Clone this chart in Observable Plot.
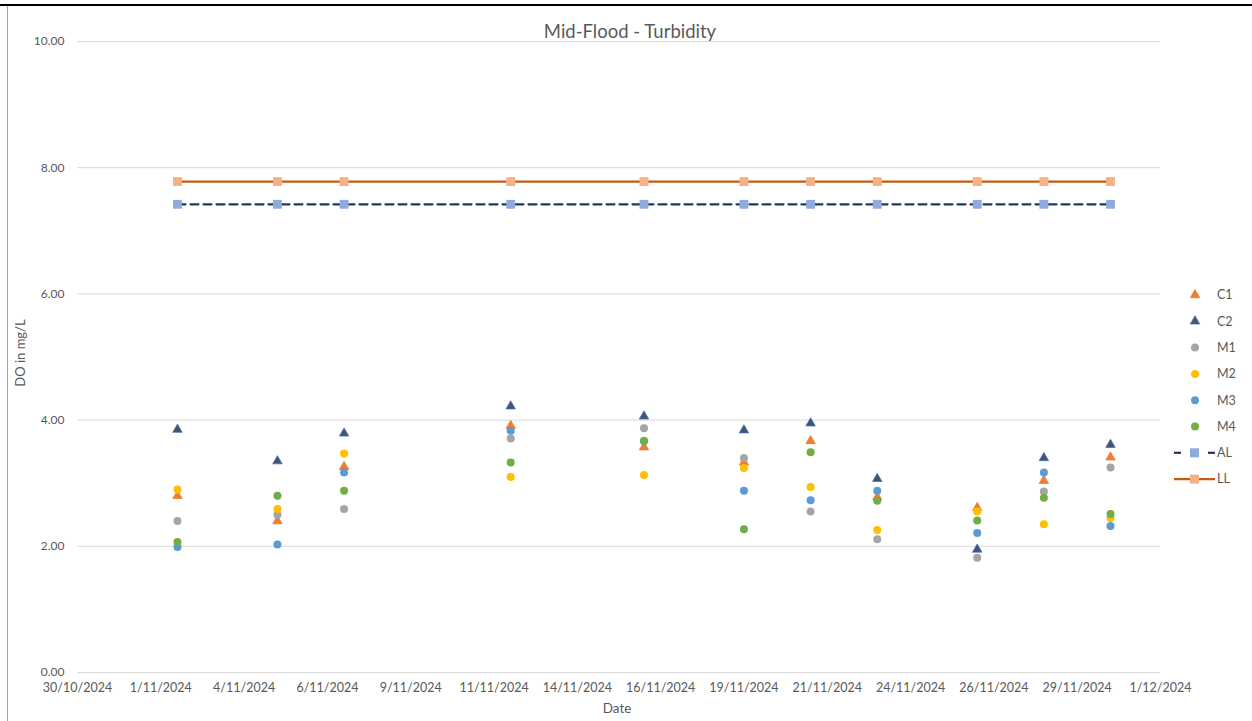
<!DOCTYPE html>
<html>
<head>
<meta charset="utf-8">
<script src="https://cdn.jsdelivr.net/npm/d3@7"></script>
<script src="https://cdn.jsdelivr.net/npm/@observablehq/plot@0.6"></script>
<style>
  body { margin: 0; background: #fff; font-family: Lato, "Open Sans", sans-serif; }
  #wrap { position: relative; width: 1252px; height: 721px; overflow: hidden; background: #fff; }
  #wrap svg.plot { position: absolute; left: 0; top: 0; }
  #topline { position: absolute; left: 0; top: 4px; width: 1252px; height: 2px; background: #000; }
  #leftline { position: absolute; left: 7px; top: 6px; width: 1px; height: 715px; background: #a6a6a6; }
  #title { position: absolute; left: 430px; top: 20px; width: 400px; text-align: center; font-size: 18.5px; color: #595959; }
  #ylabel { position: absolute; left: 20px; top: 353px; transform: translate(-50%, -50%) rotate(-90deg); font-size: 13px; color: #595959; white-space: nowrap; }
  #xlabel { position: absolute; left: 617px; top: 708px; transform: translate(-50%, -50%); font-size: 13.5px; color: #595959; }
  #legend { position: absolute; left: 1160px; top: 270px; }
</style>
</head>
<body>
<div id="wrap">
  <div id="topline"></div>
  <div id="leftline"></div>
</div>
<script>
// ---- data ----
const dates = ["2024-11-02","2024-11-05","2024-11-07","2024-11-12","2024-11-16","2024-11-19","2024-11-21","2024-11-23","2024-11-26","2024-11-28","2024-11-30"];
const C1 = [2.80, 2.40, 3.26, 3.91, 3.57, 3.33, 3.67, 2.78, 2.61, 3.04, 3.41];
const C2 = [3.85, 3.35, 3.79, 4.22, 4.06, 3.84, 3.95, 3.07, 1.95, 3.40, 3.61];
const M1 = [2.40, 2.50, 2.59, 3.71, 3.87, 3.40, 2.55, 2.11, 1.82, 2.87, 3.25];
const M2 = [2.90, 2.59, 3.47, 3.10, 3.13, 3.24, 2.94, 2.26, 2.55, 2.35, 2.45];
const M3 = [1.99, 2.03, 3.17, 3.83, 3.67, 2.88, 2.73, 2.88, 2.21, 3.17, 2.32];
const M4 = [2.07, 2.80, 2.88, 3.33, 3.67, 2.27, 3.49, 2.72, 2.41, 2.77, 2.51];
const AL = [7.42, 7.42, 7.42, 7.42, 7.42, 7.42, 7.42, 7.42, 7.42, 7.42, 7.42];
const LL = [7.78, 7.78, 7.78, 7.78, 7.78, 7.78, 7.78, 7.78, 7.78, 7.78, 7.78];
const seriesNames = ["C1","C2","M1","M2","M3","M4","AL","LL"];
const yTicks = [0, 2, 4, 6, 8, 10];
const xTicks = ["2024-10-30T00:00Z","2024-11-01T12:00Z","2024-11-04T00:00Z","2024-11-06T12:00Z","2024-11-09T00:00Z","2024-11-11T12:00Z","2024-11-14T00:00Z","2024-11-16T12:00Z","2024-11-19T00:00Z","2024-11-21T12:00Z","2024-11-24T00:00Z","2024-11-26T12:00Z","2024-11-29T00:00Z","2024-12-01T12:00Z"];
const titleText = "Mid-Flood - Turbidity";
const yLabelText = "DO in mg/L";
const xLabelText = "Date";

// ---- styles ----
const styles = {
  C1: {symbol: "triangle", fill: "#ED7D31", stroke: "#ED7D31", r: 3.5},
  C2: {symbol: "triangle", fill: "#44546A", stroke: "#4472C4", r: 3.5},
  M1: {symbol: "circle", fill: "#A5A5A5", r: 4},
  M2: {symbol: "circle", fill: "#FFC000", r: 4},
  M3: {symbol: "circle", fill: "#5B9BD5", r: 4},
  M4: {symbol: "circle", fill: "#70AD47", r: 4},
  AL: {line: "#203864", marker: "#8FAADC", dash: "8,5"},
  LL: {line: "#C55A11", marker: "#F4B183", dash: null}
};

const values = {C1, C2, M1, M2, M3, M4, AL, LL};
const toRows = (name) => dates.map((d, i) => ({date: new Date(d + "T00:00Z"), value: values[name][i], series: name}));
const xTickDates = xTicks.map(s => new Date(s));
const fmt = d3.utcFormat("%-d/%-m/%Y");

const marks = [
  Plot.gridY(yTicks, {stroke: "#d9d9d9", strokeOpacity: 1, strokeWidth: 1}),
  Plot.axisY(yTicks, {tickSize: 0, tickPadding: 13, tickFormat: d => d.toFixed(2), label: null, fontSize: 12}),
  Plot.axisX(xTickDates, {tickSize: 0, tickPadding: 11, tickFormat: fmt, label: null, fontSize: 12.5})
];
for (const name of ["AL", "LL"]) {
  const s = styles[name];
  const rows = toRows(name);
  marks.push(Plot.line(rows, {x: "date", y: "value", stroke: s.line, strokeWidth: 2.25, strokeDasharray: s.dash || undefined}));
  marks.push(Plot.dot(rows, {x: "date", y: "value", symbol: "square", fill: s.marker, r: 5}));
}
for (const name of ["C1","C2","M1","M2","M3","M4"]) {
  const s = styles[name];
  const opts = {x: "date", y: "value", symbol: s.symbol, fill: s.fill, r: s.r};
  if (s.stroke) { opts.stroke = s.stroke; opts.strokeWidth = 0.8; }
  marks.push(Plot.dot(toRows(name), opts));
}

const chart = Plot.plot({
  width: 1252, height: 721,
  marginLeft: 77, marginRight: 92, marginTop: 41, marginBottom: 49,
  style: {fontFamily: "Lato, 'Open Sans', sans-serif", color: "#595959", background: "transparent", overflow: "visible"},
  x: {type: "utc", domain: [new Date(xTicks[0]), new Date(xTicks[xTicks.length - 1])]},
  y: {domain: [0, 10]},
  marks
});
chart.classList.add("plot");
const wrap = document.getElementById("wrap");
wrap.appendChild(chart);

// ---- text overlays ----
const addDiv = (id, text) => { const el = document.createElement("div"); el.id = id; el.textContent = text; wrap.appendChild(el); };
addDiv("title", titleText);
addDiv("ylabel", yLabelText);
addDiv("xlabel", xLabelText);

// ---- legend ----
const lg = d3.select(wrap).append("svg").attr("id", "legend").attr("width", 92).attr("height", 230)
  .style("font-family", "Lato, 'Open Sans', sans-serif");
seriesNames.forEach((name, i) => {
  const s = styles[name];
  const cy = 25 + i * 26.3;
  const g = lg.append("g").attr("transform", `translate(0,${cy})`);
  if (s.line) {
    if (s.dash) {
      g.append("line").attr("x1", 14).attr("x2", 21).attr("y1", 0).attr("y2", 0).attr("stroke", s.line).attr("stroke-width", 2.25);
      g.append("line").attr("x1", 48).attr("x2", 55).attr("y1", 0).attr("y2", 0).attr("stroke", s.line).attr("stroke-width", 2.25);
    } else {
      g.append("line").attr("x1", 14).attr("x2", 55).attr("y1", 0).attr("y2", 0).attr("stroke", s.line).attr("stroke-width", 2.25);
    }
    g.append("rect").attr("x", 30).attr("y", -4.5).attr("width", 9).attr("height", 9).attr("fill", s.marker);
  } else {
    const sym = s.symbol === "triangle" ? d3.symbolTriangle : d3.symbolCircle;
    const size = Math.PI * s.r * s.r;
    g.append("path").attr("d", d3.symbol(sym, size)()).attr("transform", "translate(35,0)")
      .attr("fill", s.fill).attr("stroke", s.stroke || "none").attr("stroke-width", s.stroke ? 0.8 : 0);
  }
  g.append("text").attr("x", 57).attr("y", 0).attr("dy", "0.35em").attr("font-size", 12.5).attr("fill", "#595959").text(name);
});
</script>
</body>
</html>
